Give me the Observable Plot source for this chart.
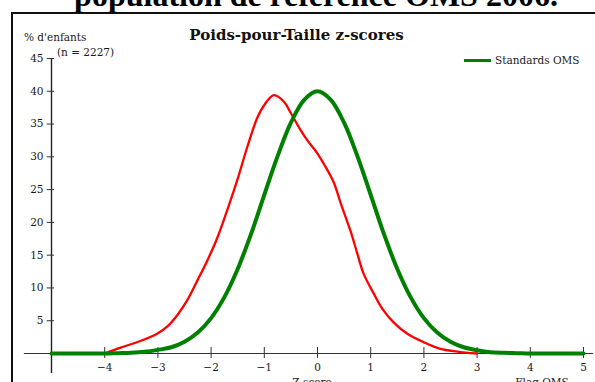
<!DOCTYPE html>
<html><head><meta charset="utf-8">
<script src="https://cdn.jsdelivr.net/npm/d3@7"></script>
<script src="https://cdn.jsdelivr.net/npm/@observablehq/plot@0.6"></script>
<style>
body{margin:0;background:#fff;overflow:hidden;}
#wrap{position:relative;width:595px;height:382px;overflow:hidden;background:#fff;}
.t{position:absolute;white-space:nowrap;line-height:1;color:#1a1a1a;font-family:"DejaVu Serif",serif;}
#box{position:absolute;left:11px;top:12px;width:700px;height:500px;border:2px solid #111;box-sizing:border-box;}
#heading{font-family:"Liberation Serif",serif;font-weight:bold;font-size:32px;left:0;width:632px;text-align:center;top:-21.5px;color:#000;}
#title{font-weight:bold;font-size:15px;left:0;width:593px;text-align:center;top:28px;color:#111;}
#ylab{font-size:10.5px;left:24px;top:32px;}
#nlab{font-size:10.5px;left:57px;top:46.5px;}
#legline{position:absolute;left:464px;top:58.5px;width:27px;height:3px;background:#008000;}
#legtxt{font-size:10.5px;left:495px;top:55px;}
#xlab{font-size:10.5px;left:0;width:624px;text-align:center;top:377px;}
#flag{font-size:10.5px;left:0;width:1084px;text-align:center;top:377px;}
#chart{position:absolute;left:0;top:0;}
</style></head><body>
<div id="wrap">
  <div id="box"></div>
  <div id="heading" class="t">population de référence OMS 2006.</div>
  <div id="title" class="t">Poids-pour-Taille z-scores</div>
  <div id="ylab" class="t">% d'enfants</div>
  <div id="nlab" class="t">(n = 2227)</div>
  <div id="legline"></div>
  <div id="legtxt" class="t">Standards OMS</div>
  <div id="xlab" class="t">Z-score</div>
  <div id="flag" class="t">Flag OMS</div>
  <div id="chart"></div>
</div>
<script>
// Sample distribution (red)
const redZ   = [-4, -3.7, -3.33, -3.0, -2.8, -2.64, -2.45, -2.26, -2.07, -1.89, -1.7, -1.51, -1.32, -1.13, -1.01, -0.82, -0.63, -0.51, -0.32, -0.19, 0, 0.12, 0.3, 0.45, 0.62, 0.75, 0.87, 1.06, 1.22, 1.43, 1.69, 2.0, 2.31, 2.63, 3.0];
const redPct = [0, 0.9, 1.9, 3.1, 4.3, 5.8, 8.1, 11.1, 14.2, 17.5, 21.8, 26.4, 31.5, 36.0, 37.8, 39.4, 38.4, 36.8, 34.1, 32.5, 30.5, 28.9, 26.2, 22.6, 18.7, 15.2, 12.1, 9.1, 6.8, 4.75, 3.0, 1.7, 0.7, 0.3, 0];
// WHO standard (green)
const greenZ   = [-5, -4.75, -4.5, -4.25, -4, -3.75, -3.5, -3.25, -3, -2.75, -2.5, -2.25, -2, -1.75, -1.5, -1.25, -1, -0.75, -0.5, -0.25, 0, 0.25, 0.5, 0.75, 1, 1.25, 1.5, 1.75, 2, 2.25, 2.5, 2.75, 3, 3.25, 3.5, 3.75, 4, 4.25, 4.5, 4.75, 5];
const greenPct = [0, 0, 0, 0, 0, 0.05, 0.1, 0.25, 0.55, 0.95, 1.8, 3.2, 5.4, 8.6, 12.9, 18.2, 24.2, 30.1, 35.2, 38.7, 40.0, 38.7, 35.2, 30.1, 24.2, 18.2, 12.9, 8.6, 5.4, 3.2, 1.8, 0.95, 0.5, 0.2, 0.1, 0.05, 0, 0, 0, 0, 0];
const xTicks = [-4, -3, -2, -1, 0, 1, 2, 3, 4, 5];
const yTicks = [5, 10, 15, 20, 25, 30, 35, 40, 45];

const red = redZ.map((z, i) => ({z, pct: redPct[i]}));
const green = greenZ.map((z, i) => ({z, pct: greenPct[i]}));

const font = "DejaVu Serif";
const chart = Plot.plot({
  width: 595,
  height: 382,
  marginLeft: 51,
  marginRight: 12,
  marginTop: 58,
  marginBottom: 29,
  style: {background: "transparent", overflow: "visible", fontFamily: font, fontSize: "10.5px", color: "#1a1a1a"},
  x: {domain: [-5, 5]},
  y: {domain: [0, 45]},
  marks: [
    Plot.ruleY([0], {x1: -5.51, x2: 5.19, stroke: "#333", strokeWidth: 1.2}),
    Plot.ruleX([-5], {y1: -3.05, y2: 45, stroke: "#222", strokeWidth: 1.4}),
    Plot.axisX({ticks: xTicks, tickSize: 11, dy: -6, tickFormat: () => "", label: null, stroke: "#333"}),
    Plot.axisX({ticks: xTicks, tickSize: 0, tickPadding: 10, label: null, fontSize: 10.5, fontFamily: font, fill: "#1a1a1a"}),
    Plot.axisY({ticks: yTicks, tickSize: 7.3, dx: 3, tickFormat: () => "", label: null, stroke: "#333"}),
    Plot.axisY({ticks: yTicks, tickSize: 0, tickPadding: 8, label: null, fontSize: 10.5, fontFamily: font, fill: "#1a1a1a"}),
    Plot.line(red, {x: "z", y: "pct", stroke: "#ff0000", strokeWidth: 2.3, curve: "catmull-rom"}),
    Plot.line(green, {x: "z", y: "pct", stroke: "#008000", strokeWidth: 4, curve: "catmull-rom"})
  ]
});
document.getElementById("chart").appendChild(chart);
</script>
</body></html>
